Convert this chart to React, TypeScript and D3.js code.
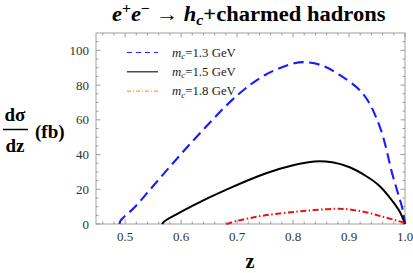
import * as d3 from "d3";
import { useRef, useEffect, useState } from "react";

// m_c = 1.3 GeV
const zBlue = [0.49, 0.492, 0.497, 0.505, 0.52, 0.544, 0.58, 0.63, 0.7, 0.75, 0.8, 0.822, 0.85, 0.88, 0.925, 0.955, 0.978, 0.99, 0.996, 1.0];
const vBlue = [0, 2, 3.8, 6, 10.7, 19.6, 33, 51, 74, 85.8, 92.4, 93.2, 91.5, 86.5, 75, 56, 28, 15, 8, 0];
// m_c = 1.5 GeV
const zBlack = [0.566, 0.569, 0.575, 0.585, 0.62, 0.681, 0.752, 0.8, 0.838, 0.87, 0.9, 0.931, 0.955, 0.972, 0.99, 1.0];
const vBlack = [0, 1.2, 2.6, 4.4, 10.5, 19.8, 29.2, 33.8, 36, 35.5, 32.8, 27.5, 21.8, 15.5, 7.5, 0];
// m_c = 1.8 GeV
const zRed = [0.681, 0.7, 0.75, 0.81, 0.85, 0.89, 0.93, 0.96, 0.985, 1.0];
const vRed = [0, 1.8, 5, 7.2, 8.3, 8.7, 6.8, 4.2, 2, 0.5];

const xTicks = [0.5, 0.6, 0.7, 0.8, 0.9, 1.0];
const yTicks = [0, 20, 40, 60, 80, 100];
const legendLabels = ["1.3", "1.5", "1.8"];

const width = 413;
const height = 273;
const left = 96, right = 405, top = 33, bottom = 224;
const serif = '"Liberation Serif"';
const ff = { fontFamily: serif };
const bold = { fontFamily: serif, fontWeight: 700 };
// title spans x 112..386 in the reference
const titleLeft = 112, titleRight = 386;

export default function App() {
  const titleRef = useRef<SVGTextElement>(null);
  const [fit, setFit] = useState({ k: 1, x0: titleLeft });

  useEffect(() => {
    const el = titleRef.current;
    if (!el) return;
    const b = el.getBBox();
    if (b.width > 0) setFit({ k: (titleRight - titleLeft) / b.width, x0: b.x });
  }, []);

  const x = d3.scaleLinear([0.448, 1.0], [left, right]);
  const y = d3.scaleLinear([0, 110], [bottom, top]);
  const line = d3
    .line<[number, number]>((d) => x(d[0]), (d) => y(d[1]))
    .curve(d3.curveCatmullRom.alpha(0.5));

  const blue = line(zBlue.map((z, i) => [z, vBlue[i]]))!;
  const black = line(zBlack.map((z, i) => [z, vBlack[i]]))!;
  const red = line(zRed.map((z, i) => [z, vRed[i]]))!;

  const xMinor = d3.range(0.46, 1.0001, 0.02).filter((t) => !xTicks.some((m) => Math.abs(m - t) < 1e-6));
  const yMinor = d3.range(5, 110, 5).filter((t) => t % 20 !== 0);

  const frame = "#888";
  const legendStyles = [
    { stroke: "#2020ff", dash: "5 4", w: 1.2 },
    { stroke: "#222", dash: "", w: 1.2 },
    { stroke: "#ff9a2a", dash: "4 2 1 2", w: 1.2 },
  ];

  return (
    <svg width={width} height={height} style={{ position: "absolute", left: 0, top: 0, fontFamily: serif }}>
      <rect width={width} height={height} fill="white" />
      {/* title: measured, then stretched to the reference width */}
      <g transform={`translate(${titleLeft},0) scale(${fit.k},1) translate(${-fit.x0},0)`}>
        <text ref={titleRef} x={0} y={21} fontSize={20} style={bold}>
          <tspan fontStyle="italic">e</tspan>
          <tspan dy={-8} fontSize={14}>+</tspan>
          <tspan dy={8} fontStyle="italic">e</tspan>
          <tspan dy={-8} fontSize={14}>−</tspan>
          <tspan dy={8}>{" → "}</tspan>
          <tspan fontStyle="italic">h</tspan>
          <tspan dy={4} fontSize={14} fontStyle="italic">c</tspan>
          <tspan dy={-4}>+charmed hadrons</tspan>
        </text>
      </g>

      {/* frame ticks */}
      <g stroke={frame} strokeWidth={0.8}>
        {xTicks.map((t) => (
          <g key={"xt" + t}>
            <line x1={x(t)} x2={x(t)} y1={bottom} y2={bottom - 4.5} />
            <line x1={x(t)} x2={x(t)} y1={top} y2={top + 4.5} />
          </g>
        ))}
        {xMinor.map((t) => (
          <g key={"xm" + t}>
            <line x1={x(t)} x2={x(t)} y1={bottom} y2={bottom - 2.5} />
            <line x1={x(t)} x2={x(t)} y1={top} y2={top + 2.5} />
          </g>
        ))}
        {yTicks.map((t) => (
          <g key={"yt" + t}>
            <line x1={left} x2={left + 4.5} y1={y(t)} y2={y(t)} />
            <line x1={right} x2={right - 4.5} y1={y(t)} y2={y(t)} />
          </g>
        ))}
        {yMinor.map((t) => (
          <g key={"ym" + t}>
            <line x1={left} x2={left + 2.5} y1={y(t)} y2={y(t)} />
            <line x1={right} x2={right - 2.5} y1={y(t)} y2={y(t)} />
          </g>
        ))}
        <rect x={left} y={top} width={right - left} height={bottom - top} fill="none" />
      </g>

      {/* tick labels */}
      <g fontSize={13} fill="#333">
        {xTicks.map((t) => (
          <text key={"xl" + t} x={x(t)} y={bottom + 17} textAnchor="middle" style={ff}>
            {d3.format(".1f")(t)}
          </text>
        ))}
        {yTicks.map((t) => (
          <text key={"yl" + t} x={left - 7} y={y(t) + 4.5} textAnchor="end" style={ff}>
            {t}
          </text>
        ))}
      </g>

      {/* curves */}
      <path d={blue} fill="none" stroke="#1a1aff" strokeWidth={2.1} strokeDasharray="10.5 5.5" />
      <path d={black} fill="none" stroke="#000" strokeWidth={2} />
      <path d={red} fill="none" stroke="#f01010" strokeWidth={2} strokeDasharray="6 2.5 1.5 2.5" />

      {/* legend */}
      {legendLabels.map((m, i) => {
        const ly = 52.5 + i * 19.3;
        const s = legendStyles[i];
        return (
          <g key={"lg" + m}>
            <line x1={127} x2={158} y1={ly} y2={ly} stroke={s.stroke} strokeWidth={s.w} strokeDasharray={s.dash} />
            <text x={172} y={ly + 4} fontSize={12.8} fill="#222" style={ff}>
              <tspan fontStyle="italic">m</tspan>
              <tspan dy={2.5} fontSize={9} fontStyle="italic">c</tspan>
              <tspan dy={-2.5}>{"=" + m + " GeV"}</tspan>
            </text>
          </g>
        );
      })}

      {/* axis labels */}
      <g fontSize={19}>
        <text x={15} y={121} textAnchor="middle" style={bold}>dσ</text>
        <line x1={3} x2={28} y1={129.5} y2={129.5} stroke="#000" strokeWidth={1.5} />
        <text x={15} y={152} textAnchor="middle" style={bold}>dz</text>
        <text x={35} y={138} style={bold}>(fb)</text>
        <text x={250} y={268} textAnchor="middle" fontSize={20} style={bold}>z</text>
      </g>
    </svg>
  );
}
